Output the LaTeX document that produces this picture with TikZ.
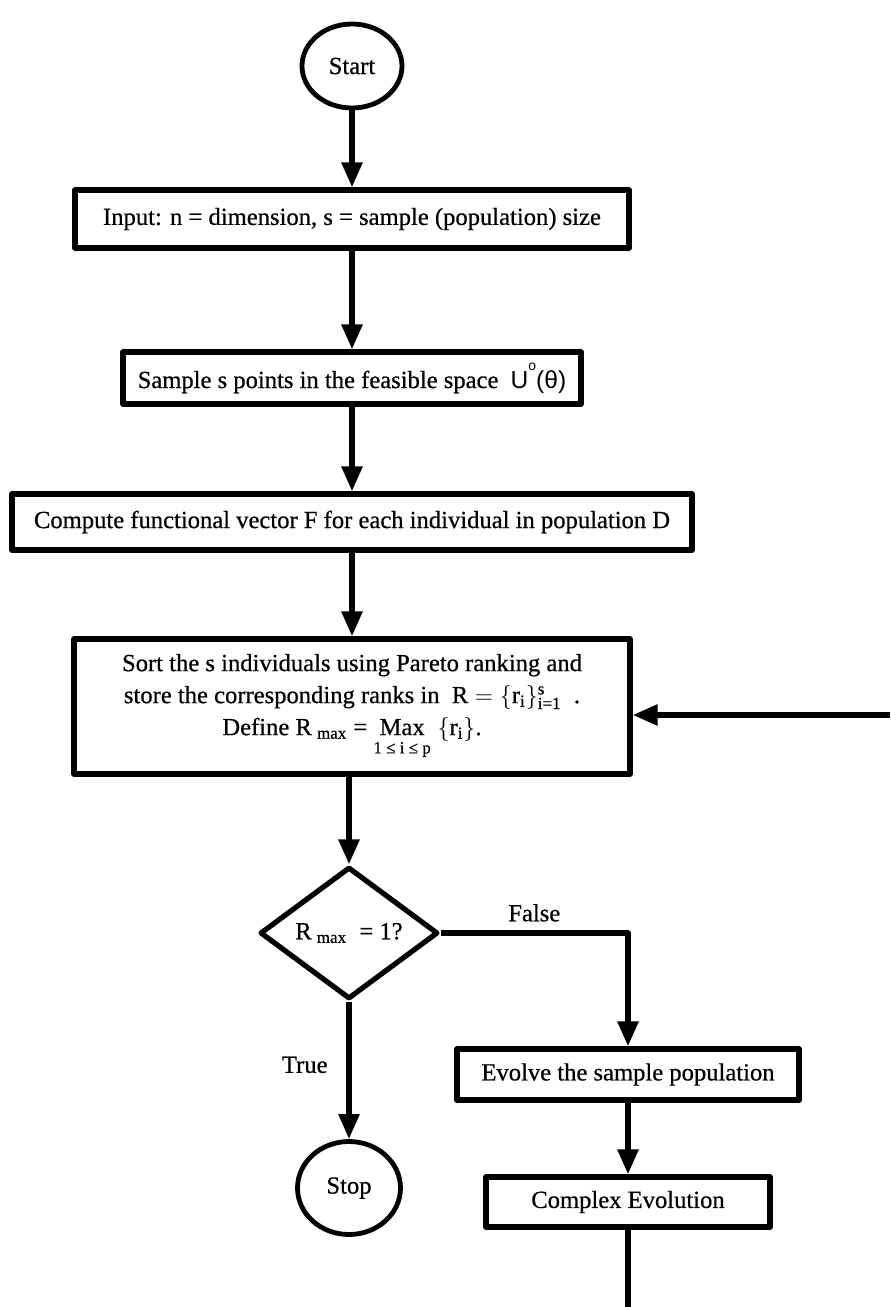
\documentclass[tikz,border=0pt]{standalone}
\usepackage{fontspec}
\setmainfont{Liberation Serif}[FakeBold=0.6]
\setsansfont{Liberation Sans}
\usetikzlibrary{arrows.meta,shapes.geometric}
\newcommand{\smtxt}[1]{\mbox{\fontsize{8.5}{9}\selectfont #1}}
\begin{document}
\begin{tikzpicture}[x=0.5pt,y=-0.5pt,font=\fontsize{12.3}{16}\selectfont,line join=round,
  >={Triangle[length=12.5pt,width=10pt]},
  box/.style={draw,line width=2.6pt,inner sep=0pt},
  term/.style={draw,ellipse,line width=2.4pt,inner sep=0pt},
  link/.style={line width=2.8pt}]
\def\xmax{890}
\def\ymax{1307}
\useasboundingbox (0,0) rectangle (\xmax,\ymax);
% main column
\node[term,minimum width=50pt,minimum height=42pt] (start) at (352,66) {Start};
\node[box,minimum width=277pt,minimum height=29pt] (input) at (352,219) {Input: n = dimension, s = sample (population) size};
\node[box,minimum width=229pt,minimum height=26pt] (sample) at (352,378) {Sample s points in the feasible space~~{\sffamily U\raisebox{0.72em}{\fontsize{7}{7}\selectfont o}(θ)}};
\node[box,minimum width=340pt,minimum height=28pt] (compute) at (352,522) {Compute functional vector F for each individual in population D};
\node[box,minimum width=278pt,minimum height=67.5pt,align=center] (sort) at (352,706.5) {Sort the s individuals using Pareto ranking and\\
  store the corresponding ranks in~~$\mbox{R} = \{\mbox{r}_{\smtxt{i}}\}^{\smtxt{s}}_{\smtxt{i=1}}$~~.\\
  Define R$_{\;\smtxt{max}}$ = $\mathop{\mbox{Max}}\limits_{\raisebox{-3pt}{\smtxt{1 ≤ i ≤ p}}}\;\{\mbox{r}_{\smtxt{i}}\}$.};
\node[draw,diamond,line width=2.6pt,minimum width=89pt,minimum height=66pt,inner sep=0pt] (test) at (349,933) {R$_{\;\smtxt{max}}$~~= 1?};
\node[term,minimum width=51.5pt,minimum height=46.5pt] (stop) at (349,1188) {Stop};
% loop column
\node[box,minimum width=171pt,minimum height=25.5pt] (evolve) at (628,1074.5) {Evolve the sample population};
\node[box,minimum width=142pt,minimum height=25pt] (complex) at (628,1202) {Complex Evolution};
\coordinate (back) at (\xmax,715);
\coordinate (out) at (628,\ymax);
% connectors
\draw[link,->] (start) -- (input);
\draw[link,->] (input) -- (sample);
\draw[link,->] (sample) -- (compute);
\draw[link,->] (compute) -- (sort);
\draw[link,->] (sort.south -| test) -- (test);
\draw[link,->] (back) -- (back -| sort.east);
\draw[link,->] (test.east) -| (evolve.north) node[pos=0.25,above=1pt]{False};
\draw[link,->] (test.south) -- (stop.north) node[pos=0.46,left=6pt]{True};
\draw[link,->] (evolve) -- (complex);
\draw[link] (complex) -- (out);
\end{tikzpicture}
\end{document}
